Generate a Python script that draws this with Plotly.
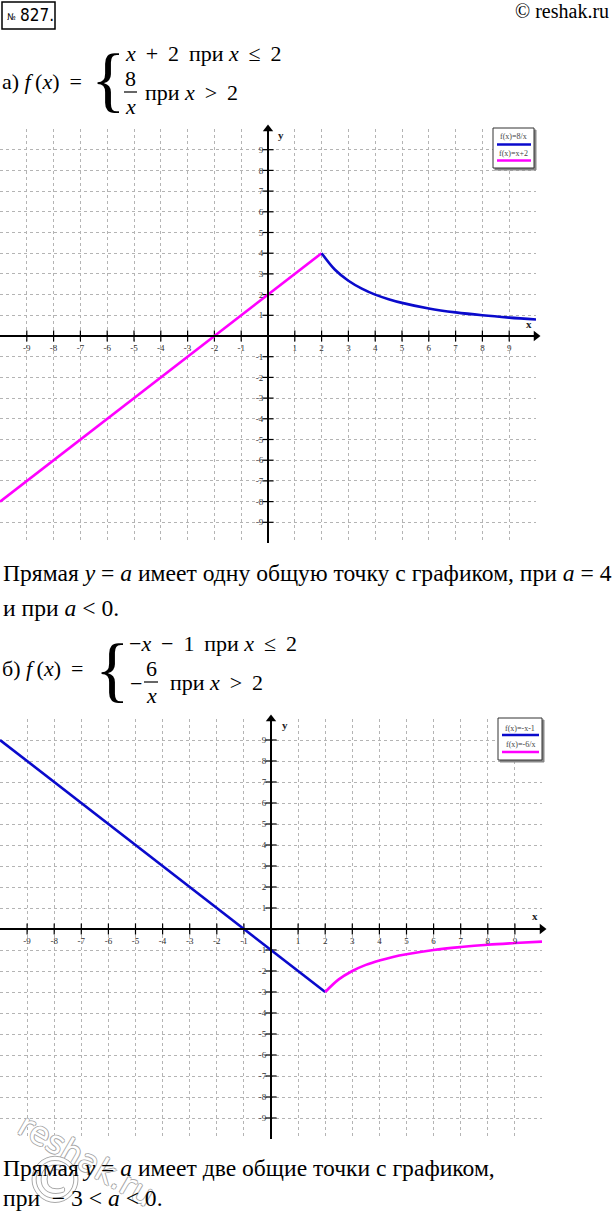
import plotly.graph_objects as go

W, H = 614, 1216

# ---------- data ----------
ticks = [-9, -8, -7, -6, -5, -4, -3, -2, -1, 1, 2, 3, 4, 5, 6, 7, 8, 9]
tick_text = [str(t) for t in ticks]
axis_range = [-10, 10]

# chart a
a_line_x = [-10, 2]
a_line_y = [-8, 4]
a_curve_x = [2, 2.5, 3, 3.5, 4, 4.5, 5, 6, 7, 8, 9, 10]
a_curve_y = [4, 3.2, 2.67, 2.29, 2.0, 1.78, 1.6, 1.33, 1.14, 1.0, 0.89, 0.8]

# chart b
b_line_x = [-10, 2]
b_line_y = [9, -3]
b_curve_x = [2, 2.5, 3, 3.5, 4, 4.5, 5, 6, 7, 8, 9, 10]
b_curve_y = [-3, -2.4, -2.0, -1.71, -1.5, -1.33, -1.2, -1.0, -0.86, -0.75, -0.67, -0.6]

BLUE = "#0a0acc"
MAGENTA = "#ff00ff"
SERIF = "Liberation Serif, Times New Roman, serif"
COND = "Liberation Sans Narrow, DejaVu Sans Condensed, sans-serif"
T = "\u2009"  # thin space

def px(x):
    return x / W

def py(y):
    return 1 - y / H

# plot areas in pixels (left, right, top, bottom)
A = (0, 536, 129, 543)
B = (0, 542, 719, 1139)

fig = go.Figure()
shapes = []
ann = []

# watermark (drawn first, beneath everything else)
outline = "-1px 0 #a8a8a8, 1px 0 #a8a8a8, 0 1px #a8a8a8, 0 -1px #a8a8a8"
ann.append(dict(x=px(86), y=py(1160), xref="paper", yref="paper", text="reshak.ru",
                showarrow=False, textangle=30, xanchor="center", yanchor="middle",
                font=dict(family="DejaVu Sans", size=32, color="white", shadow=outline)))
ann.append(dict(x=px(55), y=py(1180), xref="paper", yref="paper", text="©",
                showarrow=False, xanchor="center", yanchor="middle",
                font=dict(family="DejaVu Sans", size=62, color="white", shadow=outline)))

def add_chart(idx, box, lx, ly, lc, cx, cy, cc):
    xs = "" if idx == 1 else str(idx)
    xa, ya = "x" + xs, "y" + xs
    l, r, t, b = box
    xdom = [px(l), px(r)]
    ydom = [py(b), py(t)]
    xmid = (xdom[0] + xdom[1]) / 2
    ymid = (ydom[0] + ydom[1]) / 2
    tickfont = dict(family=SERIF, size=9, color="#333")
    fig.layout["xaxis" + xs] = dict(
        domain=xdom, range=axis_range, anchor="free", position=ymid,
        tickvals=ticks, ticktext=tick_text, ticks="", showgrid=True,
        gridcolor="#b4b4b4", griddash="dot", gridwidth=1,
        zeroline=False, showline=True, linecolor="black", linewidth=2,
        tickfont=tickfont, ticklabelstandoff=3, fixedrange=True,
    )
    fig.layout["yaxis" + xs] = dict(
        domain=ydom, range=axis_range, anchor="free", position=xmid,
        tickvals=ticks, ticktext=tick_text, ticks="", showgrid=True,
        gridcolor="#b4b4b4", griddash="dot", gridwidth=1,
        zeroline=False, showline=True, linecolor="black", linewidth=2,
        tickfont=tickfont, ticklabelstandoff=2, fixedrange=True,
    )
    # tick crosses
    fig.add_trace(go.Scatter(x=ticks, y=[0] * len(ticks), xaxis=xa, yaxis=ya,
                             mode="markers", hoverinfo="skip",
                             marker=dict(symbol="line-ns", size=8,
                                         line=dict(width=1.2, color="black"))))
    fig.add_trace(go.Scatter(x=[0] * len(ticks), y=ticks, xaxis=xa, yaxis=ya,
                             mode="markers", hoverinfo="skip",
                             marker=dict(symbol="line-ew", size=8,
                                         line=dict(width=1.2, color="black"))))
    # arrows
    fig.add_trace(go.Scatter(x=[axis_range[1]], y=[0], xaxis=xa, yaxis=ya,
                             mode="markers", cliponaxis=False, hoverinfo="skip",
                             marker=dict(symbol="triangle-right", size=9, color="black")))
    fig.add_trace(go.Scatter(x=[0], y=[axis_range[1]], xaxis=xa, yaxis=ya,
                             mode="markers", cliponaxis=False, hoverinfo="skip",
                             marker=dict(symbol="triangle-up", size=9, color="black")))
    # function graphs
    fig.add_trace(go.Scatter(x=lx, y=ly, xaxis=xa, yaxis=ya, mode="lines",
                             line=dict(color=lc, width=2.6)))
    fig.add_trace(go.Scatter(x=cx, y=cy, xaxis=xa, yaxis=ya, mode="lines",
                             line=dict(color=cc, width=2.6, shape="spline")))
    # axis names
    ann.append(dict(x=9.75, y=0.6, xref=xa, yref=ya, text="<b>x</b>", showarrow=False,
                    font=dict(family=SERIF, size=11, color="#222")))
    ann.append(dict(x=0.5, y=9.7, xref=xa, yref=ya, text="<b>y</b>", showarrow=False,
                    font=dict(family=SERIF, size=11, color="#222")))

add_chart(1, A, a_line_x, a_line_y, MAGENTA, a_curve_x, a_curve_y, BLUE)
add_chart(2, B, b_line_x, b_line_y, BLUE, b_curve_x, b_curve_y, MAGENTA)

def text(x, y, s, size=22, anchor="left", family=SERIF, color="black", **kw):
    ann.append(dict(x=px(x), y=py(y), xref="paper", yref="paper", text=s,
                    showarrow=False, xanchor=anchor, yanchor="middle",
                    font=dict(family=family, size=size, color=color), **kw))

def hline(x0, x1, y, color="black", width=1.2):
    shapes.append(dict(type="line", xref="paper", yref="paper",
                       x0=px(x0), x1=px(x1), y0=py(y), y1=py(y),
                       line=dict(color=color, width=width)))

def rect(x0, y0, x1, y1, color="black", width=1, fill=None):
    shapes.append(dict(type="rect", xref="paper", yref="paper",
                       x0=px(x0), x1=px(x1), y0=py(y0), y1=py(y1),
                       line=dict(color=color, width=width),
                       fillcolor=fill if fill else "rgba(0,0,0,0)"))

# legends
def legend(x0, y0, x1, y1, items):
    rect(x0 + 2, y0 + 2, x1 + 2, y1 + 2, color="#888", width=1, fill="#888")
    rect(x0, y0, x1, y1, color="#333", width=1, fill="white")
    for label, color, ty, ly in items:
        text((x0 + x1) / 2, ty, label, size=8, anchor="center", color="#444")
        hline(x0 + 4, x1 - 3, ly, color=color, width=2.5)

legend(493, 128, 534, 168, [("f(x)=8/x", BLUE, 137, 144.5),
                            ("f(x)=x+2", MAGENTA, 153, 160.5)])
legend(498, 718, 542, 760, [("f(x)=-x-1", BLUE, 728, 735),
                            ("f(x)=-6/x", MAGENTA, 744, 752)])

# header
rect(2, 2, 55, 29, color="black", width=1.5)
text(5, 17, "№", size=9, family=COND)
text(18, 15, "827.", size=17, family=COND)
text(611, 11, "© reshak.ru", size=20, anchor="right")

# formula a
text(0, 81, "а) <i>f</i>" + T + "(<i>x</i>)" + T + " =", size=22)
text(89, 79, "{", size=72)
text(123, 53, "<i>x</i>" + T + " +" + T + " 2" + T + " при <i>x</i>" + T + " ≤" + T + " 2", size=22)
text(130, 79, "8", size=22, anchor="center")
hline(124, 137, 92)
text(130, 106, "<i>x</i>", size=22, anchor="center")
text(143, 92, "при <i>x</i>" + T + " &gt;" + T + " 2", size=22)

# text a
text(1, 573, "Прямая <i>y</i> = <i>a</i> имеет одну общую точку с графиком, при <i>a</i> = 4", size=23.6)
text(1, 608, "и при <i>a</i> &lt; 0.", size=23.6)

# formula b
text(0, 668, "б) <i>f</i>" + T + "(<i>x</i>)" + T + " =", size=22)
text(93, 669, "{", size=72)
text(127, 643, "−<i>x</i>" + T + " −" + T + " 1" + T + " при <i>x</i>" + T + " ≤" + T + " 2", size=22)
text(128, 683, "−", size=22)
text(151, 668, "6", size=22, anchor="center")
hline(144, 158, 682)
text(151, 696, "<i>x</i>", size=22, anchor="center")
text(168, 682, "при <i>x</i>" + T + " &gt;" + T + " 2", size=22)

# text b
text(1, 1168, "Прямая <i>y</i> = <i>a</i> имеет две общие точки с графиком,", size=23.6)
text(1, 1198, "при  − 3 &lt; <i>a</i> &lt; 0.", size=23.6)

fig.update_layout(width=W, height=H, margin=dict(l=0, r=0, t=0, b=0),
                  paper_bgcolor="white", plot_bgcolor="white", showlegend=False,
                  shapes=shapes, annotations=ann)

fig.write_html("out.html", config={"displayModeBar": False},
               post_script="document.body.style.margin='0px';")
